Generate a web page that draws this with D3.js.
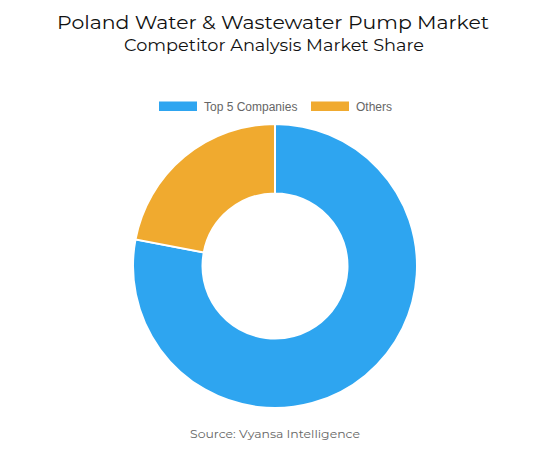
<!DOCTYPE html>
<html>
<head>
<meta charset="utf-8">
<script src="https://cdn.jsdelivr.net/npm/d3@7"></script>
<style>
html,body{margin:0;padding:0;background:#fff;}
svg{display:block;}
</style>
</head>
<body>
<svg id="chart" width="550" height="450"></svg>
<script>
const categories = ["Top 5 Companies", "Others"];
const shares = [78, 22];
const colors = ["#2ea5f0", "#f0aa2f"];
const titleLines = ["Poland Water & Wastewater Pump Market", "Competitor Analysis Market Share"];
const sourceText = "Source: Vyansa Intelligence";

const svg = d3.select("#chart");
const titleFont = "Montserrat, 'Open Sans', 'DejaVu Sans', sans-serif";

svg.append("text").attr("x", 273).attr("y", 29).attr("text-anchor", "middle")
  .attr("font-family", titleFont).attr("font-size", 18).attr("fill", "#111")
  .attr("textLength", 432).attr("lengthAdjust", "spacingAndGlyphs")
  .text(titleLines[0]);
svg.append("text").attr("x", 274).attr("y", 51).attr("text-anchor", "middle")
  .attr("font-family", titleFont).attr("font-size", 16.5).attr("fill", "#111")
  .attr("textLength", 300).attr("lengthAdjust", "spacingAndGlyphs")
  .text(titleLines[1]);

// Legend
const legendX = [159, 311];
const legend = svg.append("g");
categories.forEach((c, i) => {
  legend.append("rect").attr("x", legendX[i]).attr("y", 101.5).attr("width", 38).attr("height", 9.5)
    .attr("fill", colors[i]);
  legend.append("text").attr("x", legendX[i] + 45).attr("y", 110.5)
    .attr("font-family", "'Liberation Sans', Arial, sans-serif").attr("font-size", 12)
    .attr("fill", "#666").text(c);
});

// Donut
const cx = 275, cy = 266, outerR = 142, innerR = 72.5;
const pie = d3.pie().sort(null).value(d => d);
const arc = d3.arc().innerRadius(innerR).outerRadius(outerR);
const g = svg.append("g").attr("transform", `translate(${cx},${cy})`);
g.selectAll("path").data(pie(shares)).join("path")
  .attr("d", arc)
  .attr("fill", (d, i) => colors[i])
  .attr("stroke", "#fff").attr("stroke-width", 2);

svg.append("text").attr("x", 275).attr("y", 438).attr("text-anchor", "middle")
  .attr("font-family", titleFont).attr("font-size", 12).attr("fill", "#666")
  .attr("textLength", 170).attr("lengthAdjust", "spacingAndGlyphs")
  .text(sourceText);
</script>
</body>
</html>
